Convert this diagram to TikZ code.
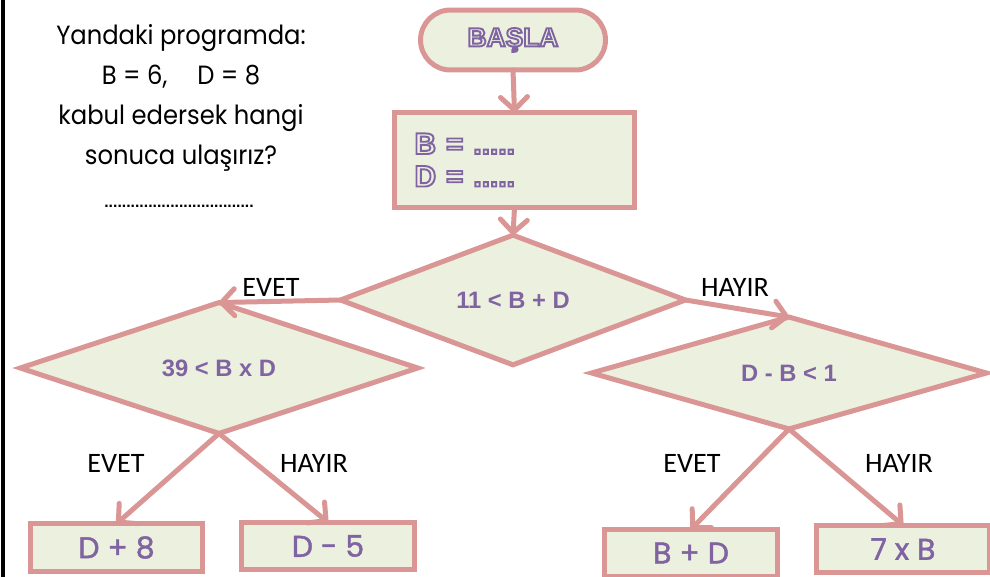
\documentclass[tikz,border=0pt]{standalone}
\usepackage{fontspec}
\setmainfont{Liberation Sans}
\newfontfamily\handfont{Poppins}[FakeStretch=0.92]
\newfontfamily\resfont{Poppins}[FakeBold=1.5]
\newfontfamily\choicefont{Carlito}
\usetikzlibrary{arrows.meta,shapes.geometric,positioning}
\definecolor{flowpink}{RGB}{217,150,148}
\definecolor{flowfill}{RGB}{235,241,222}
\definecolor{flowpurple}{RGB}{128,100,162}
\newcommand\hollowtext[1]{\special{pdf:literal direct 1 Tr 1.1 w}#1\special{pdf:literal direct 0 Tr}}
\tikzset{
  base/.style={draw=flowpink, fill=flowfill, line width=0.1cm, outer sep=0pt},
  term/.style={base, rounded corners=0.6cm, minimum width=3.7cm, minimum height=1.2cm,
    text=flowpurple, font=\bfseries\fontsize{15}{15}\selectfont},
  proc/.style={base, rectangle},
  decide/.style={base, diamond, inner sep=0pt, text=flowpurple,
    font=\bfseries\fontsize{13.5}{13.5}\selectfont},
  answer/.style={proc, text=flowpurple, font=\resfont\fontsize{17}{17}\selectfont},
  choice/.style={font=\choicefont\fontsize{16}{16}\selectfont},
  flow/.style={draw=flowpink, line width=0.1cm, line cap=round,
    -{Straight Barb[length=2.6mm,width=5.4mm,round]}},
}
\begin{document}
\begin{tikzpicture}[x=0.02cm,y=-0.02cm]
  \useasboundingbox (0,0) rectangle (990,577);
  \draw[line width=0.08cm] (3,0) -- (3,577);

  % question on the left
  \node[align=center, font=\handfont\fontsize{15}{22.8}\selectfont] (task) at (181,98)
    {Yandaki programda:\\B = 6,\hspace{0.6cm}D = 8\\kabul edersek hangi\\sonuca ulaşırız?};
  \node[font=\bfseries\fontsize{9}{9}\selectfont] (blank) at (179,206)
    {..................................};

  % flow chart
  \node[term] (start) at (513,40) {\hollowtext{BAŞLA}};
  \node[proc, minimum width=4.8cm, minimum height=1.9cm, text width=4.0cm, inner xsep=0.4cm,
    align=left, text=flowpurple, font=\bfseries\fontsize{17}{18.5}\selectfont] (init) at (514.5,160)
    {\hollowtext{B = .....}\\\hollowtext{D = .....}};
  \node[decide, minimum width=6.9cm, minimum height=2.15cm] (q1) at (513,300) {11 < B + D};
  \node[decide, minimum width=7.95cm, minimum height=1.9cm] (q2) at (219,368) {39 < B x D};
  \node[decide, minimum width=7.9cm, minimum height=1.95cm] (q3) at (789,373) {D - B < 1};

  \node[answer, minimum width=3.45cm, minimum height=0.95cm] (r1) at (116.5,547.5) {D + 8};
  \node[answer, minimum width=3.45cm, minimum height=0.95cm] (r2) at (328,546) {D - 5};
  \node[answer, minimum width=3.45cm, minimum height=0.95cm] (r3) at (691,553) {B + D};
  \node[answer, minimum width=3.45cm, minimum height=0.95cm] (r4) at (903,549) {7 x B};

  \draw[flow] (start.south) -- (init.north);
  \draw[flow] (init.south) -- (q1.north);
  \draw[flow] (q1.west) -- (q2.north);
  \draw[flow] (q1.east) -- (q3.north);
  \draw[flow] (q2.south) -- (r1.north);
  \draw[flow] (q2.south) -- (r2.north);
  \draw[flow] (q3.south) -- (r3.north);
  \draw[flow] (q3.south) -- (r4.north);

  \node[choice] (yes1) at (271,287) {EVET};
  \node[choice] (no1) at (735,287) {HAYIR};
  \node[choice] (yes2) at (116,463) {EVET};
  \node[choice] (no2) at (314,463) {HAYIR};
  \node[choice] (yes3) at (692,463) {EVET};
  \node[choice] (no3) at (899,463) {HAYIR};
\end{tikzpicture}
\end{document}
